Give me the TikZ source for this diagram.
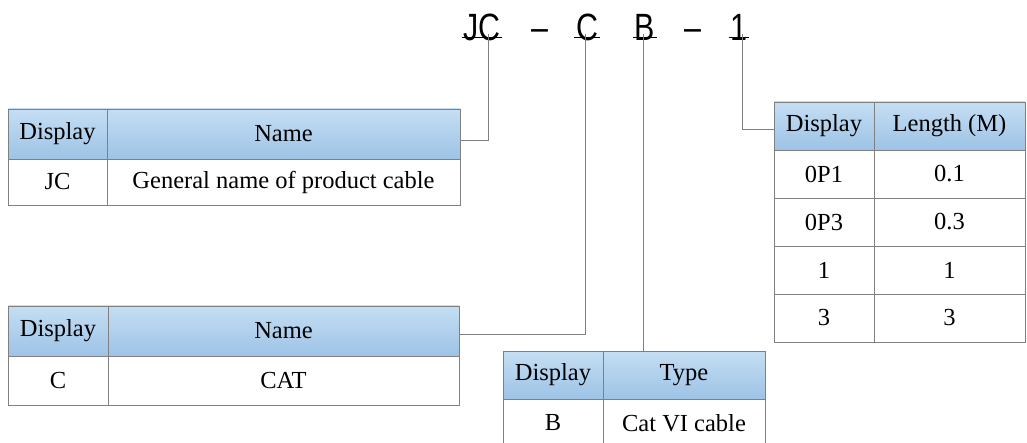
\documentclass[tikz,border=0pt]{standalone}
\usepackage{fontspec}
\setmainfont{Liberation Serif}
\newfontfamily\codefont[FakeStretch=0.8]{Liberation Sans}
\usetikzlibrary{positioning}

\definecolor{linegray}{RGB}{128,128,128}
\definecolor{headtop}{RGB}{197,222,243}
\definecolor{headbot}{RGB}{157,195,230}

\tikzset{every picture/.style={line width=0.8pt}}
\tikzset{
  cell/.style={draw=linegray, line width=0.8pt, inner sep=0pt, outer sep=0pt, anchor=north west,
    minimum height=48pt, font=\fontsize{24.5}{28}\selectfont},
  headcell/.style={cell, top color=headtop, bottom color=headbot},
  codepart/.style={inner xsep=1.5pt, inner ysep=0pt, anchor=base, font=\codefont\fontsize{38}{40}\selectfont},
  conn/.style={draw=linegray, line width=0.8pt},
  uline/.style={line width=1.8pt},
}

\begin{document}
\begin{tikzpicture}[x=1pt,y=1pt,yscale=-1,xscale=1]
	\useasboundingbox[fill=white] (0,0) rectangle (1027,443);

	% Code Text
	\node[codepart] (jc) at (482,41) {JC};
	\node[codepart] (dashA) at (540,41) {\textendash};
	\node[codepart] (c) at (587,41) {C};
	\node[codepart] (b) at (645,41) {B};
	\node[codepart] (dashB) at (693,41) {\textendash};
	\node[codepart] (one) at (739,41) {1};
	%Underlines
	\draw[uline] ([yshift=-3.5pt]jc.base west) -- ([yshift=-3.5pt]jc.base east);
	\draw[uline] ([yshift=-3.5pt]c.base west) -- ([yshift=-3.5pt]c.base east);
	\draw[uline] ([yshift=-3.5pt]b.base west) -- ([yshift=-3.5pt]b.base east);
	\draw[uline] ([yshift=-3.5pt]one.base west) -- ([yshift=-3.5pt]one.base east);

	% Table: JC
	\node[headcell, minimum width=99pt, minimum height=50pt] (jcHead1) at (8,109) {Display};
	\node[headcell, minimum width=353pt, minimum height=50pt] (jcHead2) at (107,109) {Name};
	\node[cell, minimum width=99pt, minimum height=46pt] (jcBody1) at (8,159) {JC};
	\node[cell, minimum width=353pt, minimum height=46pt] (jcBody2) at (107,159) {General name of product cable};

	% Table: C
	\node[headcell, minimum width=100pt, minimum height=50pt] (cHead1) at (8,306) {Display};
	\node[headcell, minimum width=351pt, minimum height=50pt] (cHead2) at (108,306) {Name};
	\node[cell, minimum width=100pt, minimum height=49pt] (cBody1) at (8,356) {C};
	\node[cell, minimum width=351pt, minimum height=49pt] (cBody2) at (108,356) {CAT};

	% Table: B
	\node[headcell, minimum width=100pt] (bHead1) at (503,351) {Display};
	\node[headcell, minimum width=162pt] (bHead2) at (603,351) {Type};
	\node[cell, minimum width=100pt] (bBody1) at (503,399) {B};
	\node[cell, minimum width=162pt] (bBody2) at (603,399) {Cat VI cable};

	% Table: length
	\node[headcell, minimum width=100pt] (lenHead1) at (774,102) {Display};
	\node[headcell, minimum width=151pt] (lenHead2) at (874,102) {Length (M)};
	\foreach \code/\len [count=\i] in {0P1/0.1, 0P3/0.3, 1/1, 3/3} {
		\node[cell, minimum width=100pt] (lenRow\i a) at (774,102+48*\i) {\code};
		\node[cell, minimum width=151pt] (lenRow\i b) at (874,102+48*\i) {\len};
	}

	%Connectors
	\draw[conn] ([xshift=6pt,yshift=-7pt]jc.base) |- ([yshift=6pt]jcHead2.east);
	\draw[conn] ([xshift=-2pt,yshift=-7pt]c.base) |- ([yshift=3pt]cHead2.east);
	\draw[conn] ([xshift=-2pt,yshift=-7pt]b.base) -- ([xshift=-2pt]b.base |- bHead2.north);
	\draw[conn] ([xshift=3pt,yshift=-7pt]one.base) |- ([yshift=3pt]lenHead1.west);

\end{tikzpicture}
\end{document}
